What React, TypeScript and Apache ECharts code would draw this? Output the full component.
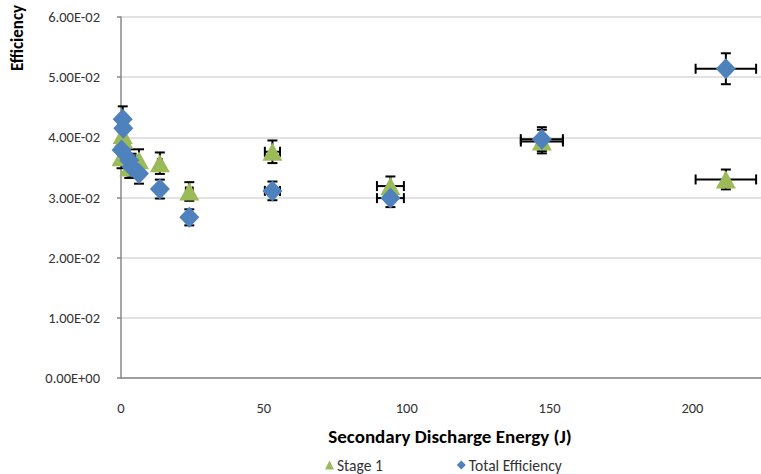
import React, { useEffect, useRef } from "react";
import * as echarts from "echarts";

// Secondary discharge energy (J) for each shot
const energyJ = [0.6, 0.8, 0.2, 2.9, 3.7, 6.3, 13.6, 23.9, 53.0, 94.3, 147.3, 211.7];
// Stage 1 efficiency
const stage1 = [0.0404, 0.0396, 0.0367, 0.035, 0.0355, 0.0362, 0.0357, 0.031, 0.0376, 0.0319, 0.0393, 0.033];
// Total efficiency
const totalEff = [0.043, 0.0415, 0.0379, 0.0362, 0.0351, 0.034, 0.0314, 0.0267, 0.0311, 0.0299, 0.0397, 0.0514];
// Percentage error bars (both directions)
const ERROR_PCT = 0.05;

const yTicks = ["0.00E+00", "1.00E-02", "2.00E-02", "3.00E-02", "4.00E-02", "5.00E-02", "6.00E-02"];

const FONT = "Carlito, Lato, 'Noto Sans', sans-serif";
const GREEN = "#9BBB59";
const BLUE = "#4F81BD";

const errRows = (ys: number[]) =>
  energyJ.map((x, i) => [x, ys[i], x * ERROR_PCT, ys[i] * ERROR_PCT]);

const errorBarSeries = (name: string, ys: number[]) => ({
  type: "custom",
  name: name + " error",
  z: 1,
  silent: true,
  encode: { x: 0, y: 1 },
  data: errRows(ys),
  renderItem: (params: any, api: any) => {
    const x = api.value(0);
    const y = api.value(1);
    const ex = api.value(2);
    const ey = api.value(3);
    const left = api.coord([x - ex, y]);
    const right = api.coord([x + ex, y]);
    const top = api.coord([x, y + ey]);
    const bottom = api.coord([x, y - ey]);
    const cap = 5;
    const style = { stroke: "#000", lineWidth: 2 };
    const seg = (x1: number, y1: number, x2: number, y2: number) => ({
      type: "line",
      shape: { x1, y1, x2, y2 },
      style,
    });
    return {
      type: "group",
      children: [
        seg(left[0], left[1], right[0], right[1]),
        seg(left[0], left[1] - cap, left[0], left[1] + cap),
        seg(right[0], right[1] - cap, right[0], right[1] + cap),
        seg(top[0], top[1], bottom[0], bottom[1]),
        seg(top[0] - cap, top[1], top[0] + cap, top[1]),
        seg(bottom[0] - cap, bottom[1], bottom[0] + cap, bottom[1]),
      ],
    };
  },
});

export default function App() {
  const ref = useRef<HTMLDivElement>(null);

  useEffect(() => {
    if (!ref.current) return;
    const chart = echarts.init(ref.current, undefined, { renderer: "svg" });
    chart.setOption({
      animation: false,
      backgroundColor: "#fff",
      textStyle: { fontFamily: FONT },
      grid: { left: 121, right: 0, top: 17, bottom: 96, containLabel: false },
      xAxis: {
        type: "value",
        min: 0,
        max: 224,
        interval: 50,
        axisLine: { show: true, onZero: false, lineStyle: { color: "#898989", width: 1.5 } },
        axisTick: { show: false },
        splitLine: { show: false },
        axisLabel: {
          margin: 22,
          fontSize: 14.5,
          color: "#333",
          fontFamily: FONT,
          showMaxLabel: false,
        },
      },
      yAxis: {
        type: "value",
        min: 0,
        max: 0.06,
        interval: 0.01,
        axisLine: { show: true, lineStyle: { color: "#898989", width: 1.5 } },
        axisTick: { show: true, length: 4, lineStyle: { color: "#898989", width: 1.5 } },
        splitLine: { show: true, lineStyle: { color: "#d9d9d9", width: 1.5 } },
        axisLabel: {
          margin: 21,
          fontSize: 14.5,
          color: "#333",
          fontFamily: FONT,
          formatter: (v: number) => yTicks[Math.round(v / 0.01)] ?? "",
        },
      },
      legend: {
        left: 320,
        top: 452,
        itemWidth: 9,
        itemHeight: 9,
        itemGap: 74,
        textStyle: { fontSize: 15.5, color: "#333", fontFamily: FONT, padding: [0, 0, 0, -2] },
        data: [
          { name: "Stage 1", icon: "triangle" },
          { name: "Total Efficiency", icon: "diamond" },
        ],
      },
      graphic: [
        {
          type: "text",
          x: 450,
          y: 436,
          style: {
            text: "Secondary Discharge Energy (J)",
            font: `bold 19px ${FONT}`,
            fill: "#000",
            align: "center",
            verticalAlign: "middle",
          },
        },
        {
          type: "text",
          x: 17,
          y: 38,
          rotation: Math.PI / 2,
          style: {
            text: "Efficiency",
            font: `bold 17px ${FONT}`,
            fill: "#000",
            align: "center",
            verticalAlign: "middle",
          },
        },
      ],
      series: [
        errorBarSeries("Stage 1", stage1),
        errorBarSeries("Total Efficiency", totalEff),
        {
          type: "scatter",
          name: "Stage 1",
          z: 2,
          symbol: "triangle",
          symbolSize: [20, 18],
          itemStyle: { color: GREEN, opacity: 1 },
          data: energyJ.map((x, i) => [x, stage1[i]]),
        },
        {
          type: "scatter",
          name: "Total Efficiency",
          z: 3,
          symbol: "diamond",
          symbolSize: [20, 21],
          itemStyle: { color: BLUE, opacity: 1 },
          data: energyJ.map((x, i) => [x, totalEff[i]]),
        },
      ],
    });
    return () => chart.dispose();
  }, []);

  return <div ref={ref} style={{ width: 761, height: 474, position: "absolute", left: 0, top: 0 }} />;
}
